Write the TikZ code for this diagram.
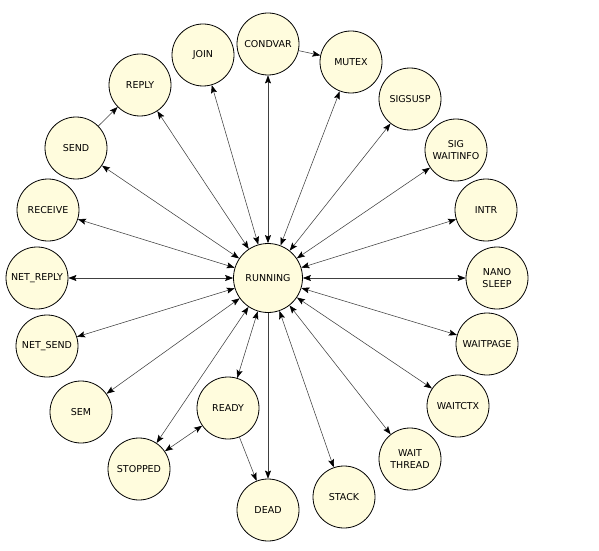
\documentclass[tikz,border=0pt]{standalone}
\usepackage{fontspec}
\setmainfont{DejaVu Sans}
\usetikzlibrary{arrows.meta}

\definecolor{stateFill}{HTML}{FFFCDD}

\begin{document}
\begin{tikzpicture}[x=1pt, y=1pt,
		state/.style={circle, draw=black, line width=0.8pt, fill=stateFill,
			minimum size=62pt, inner sep=0pt, align=center,
			font=\fontsize{9.5}{11.5}\selectfont},
		edge/.style={draw=black!75, line width=0.55pt,
			arrows={-Stealth[length=8pt, width=6pt, inset=1.5pt, black]}},
		biedge/.style={edge, arrows={Stealth[length=8pt, width=6pt, inset=1.5pt, black]-Stealth[length=8pt, width=6pt, inset=1.5pt, black]}}]
		% --- Canvas ---
		\useasboundingbox (0,0) rectangle (599,550);
		
		% --- Central State ---
		\node[state, minimum size=69pt] (running) at (268, 272) {RUNNING};
		
		% --- Ring of States (clockwise from top) ---
		\node[state] (condvar) at (268, 506) {CONDVAR};
		\node[state] (mutex) at (351, 488) {MUTEX};
		\node[state] (sigsusp) at (410, 451) {SIGSUSP};
		\node[state] (sigwaitinfo) at (456, 400) {SIG\\WAITINFO};
		\node[state] (intr) at (486, 340) {INTR};
		\node[state] (nanosleep) at (497, 272) {NANO\\SLEEP};
		\node[state] (waitpage) at (487, 206) {WAITPAGE};
		\node[state] (waitctx) at (458, 144) {WAITCTX};
		\node[state] (waitthread) at (410, 91) {WAIT\\THREAD};
		\node[state] (stack) at (344, 53) {STACK};
		\node[state] (dead) at (268, 40) {DEAD};
		\node[state] (ready) at (228, 142) {READY};
		\node[state] (stopped) at (139, 81) {STOPPED};
		\node[state] (sem) at (81, 138) {SEM};
		\node[state] (netsend) at (47, 204) {NET\_SEND};
		\node[state] (netreply) at (37, 272) {NET\_REPLY};
		\node[state] (receive) at (48, 340) {RECEIVE};
		\node[state] (send) at (76, 402) {SEND};
		\node[state] (reply) at (140, 465) {REPLY};
		\node[state] (join) at (203, 495) {JOIN};
		
		% --- Two-way transitions with RUNNING ---
		\foreach \s in {condvar, mutex, sigsusp, sigwaitinfo, intr, nanosleep,
			waitpage, waitctx, waitthread, stack, ready, stopped, sem,
			netsend, netreply, receive, send, reply, join}
		\draw[biedge] (running) -- (\s);
		
		% --- One-way transitions ---
		\draw[edge] (running) -- (dead);
		\draw[edge] (ready) -- (dead);
		\draw[edge] (condvar) -- (mutex);
		\draw[edge] (send) -- (reply);
		\draw[biedge] (ready) -- (stopped);
		
	\end{tikzpicture}
\end{document}
